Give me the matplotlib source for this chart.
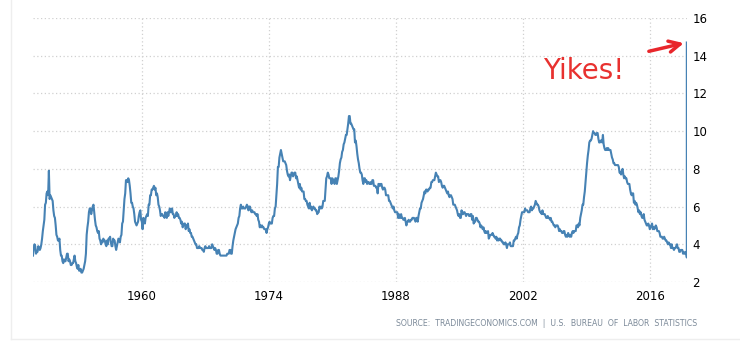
import numpy as np
import matplotlib.pyplot as plt

# US unemployment rate, monthly, per year (%)
rate_by_year = {
    1948: [3.4, 3.8, 4.0, 3.9, 3.5, 3.6, 3.6, 3.9, 3.8, 3.7, 3.8, 4.0],
    1949: [4.3, 4.7, 5.0, 5.3, 6.1, 6.2, 6.7, 6.8, 6.6, 7.9, 6.4, 6.6],
    1950: [6.5, 6.4, 6.3, 5.8, 5.5, 5.4, 5.0, 4.5, 4.4, 4.2, 4.2, 4.3],
    1951: [3.7, 3.4, 3.4, 3.1, 3.0, 3.2, 3.1, 3.1, 3.3, 3.5, 3.5, 3.1],
    1952: [3.2, 3.1, 2.9, 2.9, 3.0, 3.0, 3.2, 3.4, 3.1, 3.0, 2.8, 2.7],
    1953: [2.9, 2.6, 2.6, 2.7, 2.5, 2.5, 2.6, 2.7, 2.9, 3.1, 3.5, 4.5],
    1954: [4.9, 5.2, 5.7, 5.9, 5.9, 5.6, 5.8, 6.0, 6.1, 5.7, 5.3, 5.0],
    1955: [4.9, 4.7, 4.6, 4.7, 4.3, 4.2, 4.0, 4.2, 4.1, 4.3, 4.2, 4.2],
    1956: [4.0, 3.9, 4.2, 4.0, 4.3, 4.3, 4.4, 4.1, 3.9, 3.9, 4.3, 4.2],
    1957: [4.2, 3.9, 3.7, 3.9, 4.1, 4.3, 4.2, 4.1, 4.4, 4.5, 5.1, 5.2],
    1958: [5.8, 6.4, 6.7, 7.4, 7.4, 7.3, 7.5, 7.4, 7.1, 6.7, 6.2, 6.2],
    1959: [6.0, 5.9, 5.6, 5.2, 5.1, 5.0, 5.1, 5.2, 5.5, 5.7, 5.8, 5.3],
    1960: [5.2, 4.8, 5.4, 5.2, 5.1, 5.4, 5.5, 5.6, 5.5, 6.1, 6.1, 6.6],
    1961: [6.6, 6.9, 6.9, 7.0, 7.1, 6.9, 7.0, 6.6, 6.7, 6.5, 6.1, 6.0],
    1962: [5.8, 5.5, 5.6, 5.6, 5.5, 5.5, 5.4, 5.7, 5.6, 5.4, 5.7, 5.5],
    1963: [5.7, 5.9, 5.7, 5.7, 5.9, 5.6, 5.6, 5.4, 5.5, 5.5, 5.7, 5.5],
    1964: [5.6, 5.4, 5.4, 5.3, 5.1, 5.2, 4.9, 5.0, 5.1, 5.1, 4.8, 5.0],
    1965: [4.9, 5.1, 4.7, 4.8, 4.6, 4.6, 4.4, 4.4, 4.3, 4.2, 4.1, 4.0],
    1966: [4.0, 3.8, 3.8, 3.8, 3.9, 3.8, 3.8, 3.8, 3.7, 3.7, 3.6, 3.8],
    1967: [3.9, 3.8, 3.8, 3.8, 3.8, 3.9, 3.8, 3.8, 3.8, 4.0, 3.9, 3.8],
    1968: [3.7, 3.8, 3.7, 3.5, 3.5, 3.7, 3.7, 3.5, 3.4, 3.4, 3.4, 3.4],
    1969: [3.4, 3.4, 3.4, 3.4, 3.4, 3.5, 3.5, 3.5, 3.7, 3.7, 3.5, 3.5],
    1970: [3.9, 4.2, 4.4, 4.6, 4.8, 4.9, 5.0, 5.1, 5.4, 5.5, 5.9, 6.1],
    1971: [5.9, 5.9, 6.0, 5.9, 5.9, 5.9, 6.0, 6.1, 6.0, 5.8, 6.0, 6.0],
    1972: [5.8, 5.7, 5.8, 5.7, 5.7, 5.7, 5.6, 5.6, 5.5, 5.6, 5.3, 5.2],
    1973: [4.9, 5.0, 4.9, 5.0, 4.9, 4.9, 4.8, 4.8, 4.8, 4.6, 4.8, 4.9],
    1974: [5.1, 5.2, 5.1, 5.1, 5.1, 5.4, 5.5, 5.5, 5.9, 6.0, 6.6, 7.2],
    1975: [8.1, 8.1, 8.6, 8.8, 9.0, 8.8, 8.6, 8.4, 8.4, 8.4, 8.3, 8.2],
    1976: [7.9, 7.7, 7.6, 7.7, 7.4, 7.6, 7.8, 7.8, 7.6, 7.7, 7.8, 7.8],
    1977: [7.5, 7.6, 7.4, 7.2, 7.0, 7.2, 6.9, 7.0, 6.8, 6.8, 6.8, 6.4],
    1978: [6.4, 6.3, 6.3, 6.1, 6.0, 5.9, 6.2, 5.9, 6.0, 5.8, 5.9, 6.0],
    1979: [5.9, 5.9, 5.8, 5.8, 5.6, 5.7, 5.7, 6.0, 5.9, 6.0, 5.9, 6.0],
    1980: [6.3, 6.3, 6.3, 6.9, 7.5, 7.6, 7.8, 7.7, 7.5, 7.5, 7.5, 7.2],
    1981: [7.5, 7.4, 7.4, 7.2, 7.5, 7.5, 7.2, 7.4, 7.6, 7.9, 8.3, 8.5],
    1982: [8.6, 8.9, 9.0, 9.3, 9.4, 9.6, 9.8, 9.8, 10.1, 10.4, 10.8, 10.8],
    1983: [10.4, 10.4, 10.3, 10.2, 10.1, 10.1, 9.4, 9.5, 9.2, 8.8, 8.5, 8.3],
    1984: [8.0, 7.8, 7.8, 7.7, 7.4, 7.2, 7.5, 7.5, 7.3, 7.4, 7.2, 7.3],
    1985: [7.3, 7.2, 7.2, 7.3, 7.2, 7.4, 7.4, 7.1, 7.1, 7.1, 7.0, 7.0],
    1986: [6.7, 7.2, 7.2, 7.1, 7.2, 7.2, 7.0, 6.9, 7.0, 7.0, 6.9, 6.6],
    1987: [6.6, 6.6, 6.6, 6.3, 6.3, 6.2, 6.1, 6.0, 5.9, 6.0, 5.8, 5.7],
    1988: [5.7, 5.7, 5.7, 5.4, 5.6, 5.4, 5.4, 5.6, 5.4, 5.4, 5.3, 5.3],
    1989: [5.4, 5.2, 5.0, 5.2, 5.2, 5.3, 5.2, 5.2, 5.3, 5.3, 5.4, 5.4],
    1990: [5.4, 5.3, 5.2, 5.4, 5.4, 5.2, 5.5, 5.7, 5.9, 5.9, 6.2, 6.3],
    1991: [6.4, 6.6, 6.8, 6.7, 6.9, 6.9, 6.8, 6.9, 6.9, 7.0, 7.0, 7.3],
    1992: [7.3, 7.4, 7.4, 7.4, 7.6, 7.8, 7.7, 7.6, 7.6, 7.3, 7.4, 7.4],
    1993: [7.3, 7.1, 7.0, 7.1, 7.1, 7.0, 6.9, 6.8, 6.7, 6.8, 6.6, 6.5],
    1994: [6.6, 6.6, 6.5, 6.4, 6.1, 6.1, 6.1, 6.0, 5.9, 5.8, 5.6, 5.5],
    1995: [5.6, 5.4, 5.4, 5.8, 5.6, 5.6, 5.7, 5.7, 5.6, 5.5, 5.6, 5.6],
    1996: [5.6, 5.5, 5.5, 5.6, 5.6, 5.3, 5.5, 5.1, 5.2, 5.2, 5.4, 5.4],
    1997: [5.3, 5.2, 5.2, 5.1, 4.9, 5.0, 4.9, 4.8, 4.9, 4.7, 4.6, 4.7],
    1998: [4.6, 4.6, 4.7, 4.3, 4.4, 4.5, 4.5, 4.5, 4.6, 4.5, 4.4, 4.4],
    1999: [4.3, 4.4, 4.2, 4.3, 4.2, 4.3, 4.3, 4.2, 4.2, 4.1, 4.1, 4.0],
    2000: [4.0, 4.1, 4.0, 3.8, 4.0, 4.0, 4.0, 4.1, 3.9, 3.9, 3.9, 3.9],
    2001: [4.2, 4.2, 4.3, 4.4, 4.3, 4.5, 4.6, 4.9, 5.0, 5.3, 5.5, 5.7],
    2002: [5.7, 5.7, 5.7, 5.9, 5.8, 5.8, 5.8, 5.7, 5.7, 5.7, 5.9, 6.0],
    2003: [5.8, 5.9, 5.9, 6.0, 6.1, 6.3, 6.2, 6.1, 6.1, 6.0, 5.8, 5.7],
    2004: [5.7, 5.6, 5.8, 5.6, 5.6, 5.6, 5.5, 5.4, 5.4, 5.5, 5.4, 5.4],
    2005: [5.3, 5.4, 5.2, 5.2, 5.1, 5.0, 5.0, 4.9, 5.0, 5.0, 5.0, 4.9],
    2006: [4.7, 4.8, 4.7, 4.7, 4.6, 4.6, 4.7, 4.7, 4.5, 4.4, 4.5, 4.4],
    2007: [4.6, 4.5, 4.4, 4.5, 4.4, 4.6, 4.7, 4.6, 4.7, 4.7, 4.7, 5.0],
    2008: [5.0, 4.9, 5.1, 5.0, 5.4, 5.6, 5.8, 6.1, 6.1, 6.5, 6.8, 7.3],
    2009: [7.8, 8.3, 8.7, 9.0, 9.4, 9.5, 9.5, 9.6, 9.8, 10.0, 9.9, 9.9],
    2010: [9.8, 9.8, 9.9, 9.9, 9.6, 9.4, 9.4, 9.5, 9.5, 9.4, 9.8, 9.3],
    2011: [9.1, 9.0, 9.0, 9.1, 9.0, 9.1, 9.0, 9.0, 9.0, 8.8, 8.6, 8.5],
    2012: [8.3, 8.3, 8.2, 8.2, 8.2, 8.2, 8.2, 8.1, 7.8, 7.8, 7.7, 7.9],
    2013: [8.0, 7.7, 7.5, 7.6, 7.5, 7.5, 7.3, 7.2, 7.2, 7.2, 6.9, 6.7],
    2014: [6.6, 6.7, 6.7, 6.2, 6.3, 6.1, 6.2, 6.1, 5.9, 5.7, 5.8, 5.6],
    2015: [5.7, 5.5, 5.4, 5.4, 5.6, 5.3, 5.2, 5.1, 5.0, 5.0, 5.1, 5.0],
    2016: [4.8, 4.9, 5.0, 5.1, 4.8, 4.9, 4.8, 4.9, 5.0, 4.9, 4.7, 4.7],
    2017: [4.7, 4.6, 4.4, 4.4, 4.4, 4.3, 4.3, 4.4, 4.3, 4.2, 4.2, 4.1],
    2018: [4.0, 4.1, 4.0, 4.0, 3.8, 4.0, 3.8, 3.8, 3.7, 3.8, 3.8, 3.9],
    2019: [4.0, 3.8, 3.8, 3.6, 3.6, 3.7, 3.7, 3.7, 3.5, 3.6, 3.5, 3.5],
    2020: [3.6, 3.3, 14.7],
}

year_ticks = [1960, 1974, 1988, 2002, 2016]
y_ticks = [2, 4, 6, 8, 10, 12, 14, 16]

dates = []
values = []
for yr, months in rate_by_year.items():
    for i, v in enumerate(months):
        dates.append(yr + i / 12)
        values.append(v)
# the spike is drawn straight up at the last month
dates[-1] = dates[-2]

fig = plt.figure(figsize=(7.4, 3.41), dpi=100)
ax = fig.add_axes([33 / 740, 59 / 341, 654 / 740, 264 / 341])

ax.plot(dates, values, color='#4682b4', linewidth=1.5)

ax.set_xlim(1948.0, dates[-1] + 0.02)
ax.set_ylim(2, 16)
ax.set_xticks(year_ticks)
ax.set_yticks(y_ticks)
ax.yaxis.tick_right()
ax.tick_params(length=0, labelsize=8.5, pad=4)
ax.tick_params(axis='x', pad=6)
ax.grid(True, color='#d0d0d0', linestyle=(0, (1, 2)), linewidth=0.9)
for s in ax.spines.values():
    s.set_visible(False)

# faint frame around chart
fig.add_artist(plt.Line2D([11 / 740, 11 / 740], [2 / 341, 1], color='#eeeeee', lw=1))
fig.add_artist(plt.Line2D([11 / 740, 1], [2 / 341, 2 / 341], color='#eeeeee', lw=1))

fig.text(697 / 740, (341 - 323) / 341, 'SOURCE:  TRADINGECONOMICS.COM  |  U.S.  BUREAU  OF  LABOR  STATISTICS',
         ha='right', va='center', fontsize=5.6, color='#7c8a99')

fig.text(584 / 740, (341 - 79) / 341, 'Yikes!', ha='center', va='baseline',
         fontsize=20, color='#e8312f')

# hand-drawn looking arrow
ax.annotate('', xy=(2020.05, 14.7), xytext=(2015.6, 14.2),
            arrowprops=dict(arrowstyle='->,head_length=0.8,head_width=0.4',
                            color='#e8262b', lw=2.5))

fig.savefig('out.png', dpi=100)
